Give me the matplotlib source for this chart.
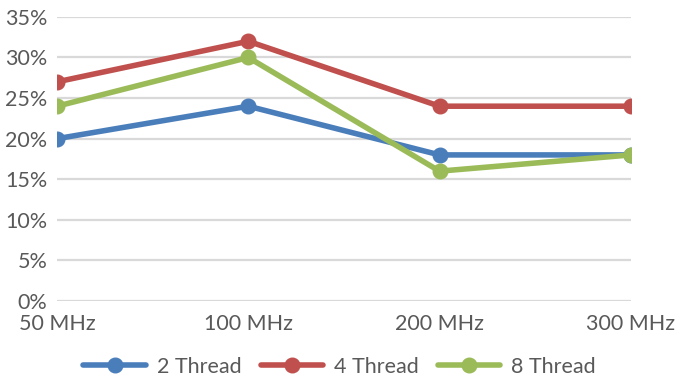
import matplotlib.pyplot as plt
from matplotlib.ticker import PercentFormatter

# thread scaling results per clock frequency
freqs = ['50 MHz', '100 MHz', '200 MHz', '300 MHz']
thread2 = [20, 24, 18, 18]
thread4 = [27, 32, 24, 24]
thread8 = [24, 30, 16, 18]

series = [('2 Thread', thread2, '#4a7ebb'),
          ('4 Thread', thread4, '#c0504d'),
          ('8 Thread', thread8, '#9bbb59')]

plt.rcParams['font.family'] = ['Lato', 'DejaVu Sans']

fig = plt.figure(figsize=(6.79, 3.84), dpi=100)
ax = fig.add_axes([0.084, 0.216, 0.845, 0.740])

x = range(len(freqs))
for name, vals, col in series:
    ax.plot(x, vals, color=col, lw=4, marker='o', ms=10.5, label=name,
            solid_capstyle='round', zorder=3)

ax.set_xlim(0, len(freqs) - 1)
ax.set_ylim(0, 35)
ax.set_yticks(range(0, 36, 5))
ax.yaxis.set_major_formatter(PercentFormatter(decimals=0))
ax.set_xticks(list(x))
ax.set_xticklabels(freqs)
ax.grid(axis='y', color='#d9d9d9', lw=1.6)
ax.set_axisbelow(True)
for s in ax.spines.values():
    s.set_visible(False)
ax.tick_params(length=0, labelsize=15.5, labelcolor='#595959')
ax.tick_params(axis='y', pad=7)
ax.tick_params(axis='x', pad=9)

fig.legend(loc='lower center', bbox_to_anchor=(0.5, -0.032), ncol=3,
           frameon=False, fontsize=15.5, labelcolor='#595959',
           handlelength=2.9, columnspacing=0.9, handletextpad=0.5)

fig.savefig('out.png', dpi=100)
